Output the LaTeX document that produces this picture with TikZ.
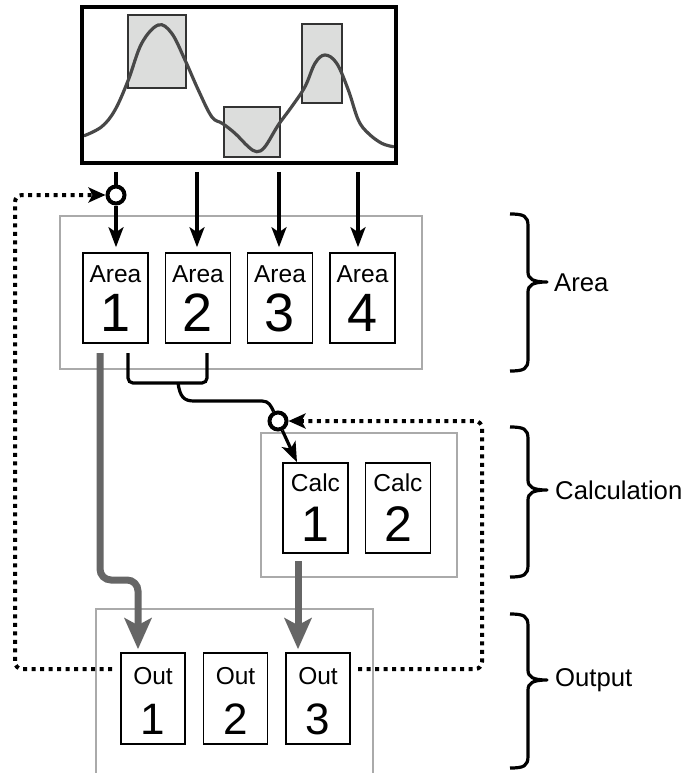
\documentclass[tikz,border=0pt]{standalone}
\usepackage{fontspec}
\setmainfont{Liberation Sans}
\usetikzlibrary{arrows.meta,calc}
\definecolor{grpgray}{HTML}{AAAAAA}
\definecolor{thickgray}{HTML}{666666}
\definecolor{curvegray}{HTML}{484848}
\definecolor{rectfill}{HTML}{DCDDDC}
\newcommand{\mybracepath}[3]{%
  (510,#1) .. controls (524,#1) and (528,{#1+2}) .. (528,{#1+12}) -- (528,{#2-10})
  .. controls (528,{#2-3}) and (533,#2) .. (547,#2)
  .. controls (533,#2) and (528,{#2+3}) .. (528,{#2+10}) -- (528,{#3-12})
  .. controls (528,{#3-2}) and (524,#3) .. (510,#3)}
\begin{document}
\begin{tikzpicture}[x=1pt,y=-1pt,
  cellbox/.style={draw=black,line width=1.6pt,minimum width=65pt,minimum height=90pt,inner sep=0pt},
  outbox/.style={cellbox,minimum width=64pt,minimum height=91pt},
  grpbox/.style={draw=grpgray,line width=1.8pt},
  smalltxt/.style={anchor=base,inner sep=0pt,font=\fontsize{24.5}{28}\selectfont},
  bigtxt/.style={anchor=base,inner sep=0pt,font=\fontsize{54}{60}\selectfont},
  midtxt/.style={anchor=base,inner sep=0pt,font=\fontsize{50}{56}\selectfont},
  outtxt/.style={anchor=base,inner sep=0pt,font=\fontsize{44}{50}\selectfont},
  grptxt/.style={anchor=west,inner sep=0pt,font=\fontsize{25.7}{30}\selectfont},
  blkarrow/.style={line width=3.2pt,-{Stealth[length=20pt,width=15pt,inset=5pt]}},
  grayarrow/.style={draw=thickgray,line width=7pt,-{Stealth[length=31pt,width=27pt,inset=7pt]}},
  dotline/.style={line width=4pt,dash pattern=on 4pt off 4.5pt,rounded corners=7pt},
  dotarrow/.style={dotline,-{Stealth[length=17pt,width=15pt,inset=4pt]}},
  junction/.style={circle,draw=black,line width=4pt,minimum size=17pt,inner sep=0pt},
  bracestyle/.style={line width=3.2pt,line join=round}
]
\useasboundingbox (0,0) rectangle (686,773);

% ---------- top plot ----------
\fill[rectfill,draw=black!80,line width=1.6pt] (128,15) rectangle (186,88);
\fill[rectfill,draw=black!80,line width=1.6pt] (224,107) rectangle (280,157);
\fill[rectfill,draw=black!80,line width=1.6pt] (302,24) rectangle (342,103);
\draw[curvegray,line width=3.2pt,line cap=round] plot[smooth,tension=0.6] coordinates {
 (84.3,135.7) (101.7,126.7) (115,110) (128.3,80) (141.7,43.3) (158.3,25) (171.7,33.3)
 (185,60) (198.3,90) (211.7,116.7) (222.5,123.5) (235,133.3) (248.3,146.7) (256.7,151.7)
 (265,146.7) (278.3,125) (291.7,106.7) (305,86.7) (315,63.3) (325,55) (336.7,63.3)
 (348.3,90) (358.3,120) (368.3,133.3) (381.7,143.3) (393.3,146.7)};
\node[draw=black,line width=3.8pt,minimum width=314pt,minimum height=156pt,inner sep=0pt] (plot) at (239,85) {};

% ---------- group boxes ----------
\draw[grpbox] (60,216) rectangle (422,369);
\draw[grpbox] (261,433) rectangle (457,577);
\draw[grpbox] (96,790) -- (96,609) -- (373,609) -- (373,790);

% ---------- area nodes ----------
\foreach \i/\x in {1/115.5,2/198,3/280,4/362.5}{
  \node[cellbox] (a\i) at (\x,298) {};
  \node[smalltxt] (at\i) at ($(a\i.north)+(0,30)$) {Area};
  \node[bigtxt] (an\i) at ($(a\i.north)+(0,79)$) {\i};
}
% ---------- calc nodes ----------
\foreach \i/\x in {1/315.5,2/398}{
  \node[cellbox] (c\i) at (\x,508) {};
  \node[smalltxt] (ct\i) at ($(c\i.north)+(0,29)$) {Calc};
  \node[midtxt] (cn\i) at ($(c\i.north)+(0,79)$) {\i};
}
% ---------- output nodes ----------
\foreach \i/\x in {1/153,2/235.5,3/318}{
  \node[outbox] (o\i) at (\x,698.5) {};
  \node[smalltxt] (ot\i) at ($(o\i.north)+(0,32)$) {Out};
  \node[outtxt] (on\i) at ($(o\i.north)+(0,82)$) {\i};
}

% ---------- junctions ----------
\node[junction] (j1) at (116,195) {};
\node[junction] (j2) at (278,421) {};

% ---------- arrows from plot ----------
\draw[line width=3.2pt] ($(plot.south -| j1)+(0,7)$) -- (j1);
\draw[blkarrow] (j1) -- ($(a1.north)+(0.5,-5)$);
\draw[blkarrow] ($(plot.south -| a2)+(-1,7)$) -- ($(a2.north)+(-1,-5)$);
\draw[blkarrow] ($(plot.south -| a3)+(-1,7)$) -- ($(a3.north)+(-1,-5)$);
\draw[blkarrow] ($(plot.south -| a4)+(-4.5,7)$) -- ($(a4.north)+(-4.5,-5)$);

% ---------- area 1 & 2 to calc ----------
\coordinate (b1) at (128,353);
\coordinate (b2) at (207,353);
\draw[line width=3.2pt,rounded corners=5pt] (b1) -- (128,383) -- (207,383) -- (b2);
\draw[line width=3.2pt] (178,383) .. controls (180,397) and (184,401) .. (194,401)
  -- (262,401) .. controls (269,401) and (271,406) .. (j2);
\draw[blkarrow] (j2) -- (c1.north -| 297,0);

% ---------- thick gray arrows ----------
\draw[grayarrow,rounded corners=11pt] (100,353) -- (100,580) -- (138,580) -- ($(o1.north -| 138,0)+(0,-3)$);
\draw[grayarrow] (298,561) -- ($(o3.north -| 298,0)+(0,-3)$);

% ---------- dotted feedback ----------
\draw[dotarrow] (112,669) -- (15,669) -- (15,195) -- (j1);
\draw[dotarrow] (358,669) -- (482,669) -- (482,421) -- (j2);

% ---------- braces ----------
\draw[bracestyle] \mybracepath{214}{282}{371};
\draw[bracestyle] \mybracepath{427}{490}{577};
\draw[bracestyle] \mybracepath{614}{680}{768};
\node[grptxt] (la) at (554,283) {Area};
\node[grptxt] (lc) at (555,490) {Calculation};
\node[grptxt] (lo) at (555,680) {Output};
\end{tikzpicture}
\end{document}
